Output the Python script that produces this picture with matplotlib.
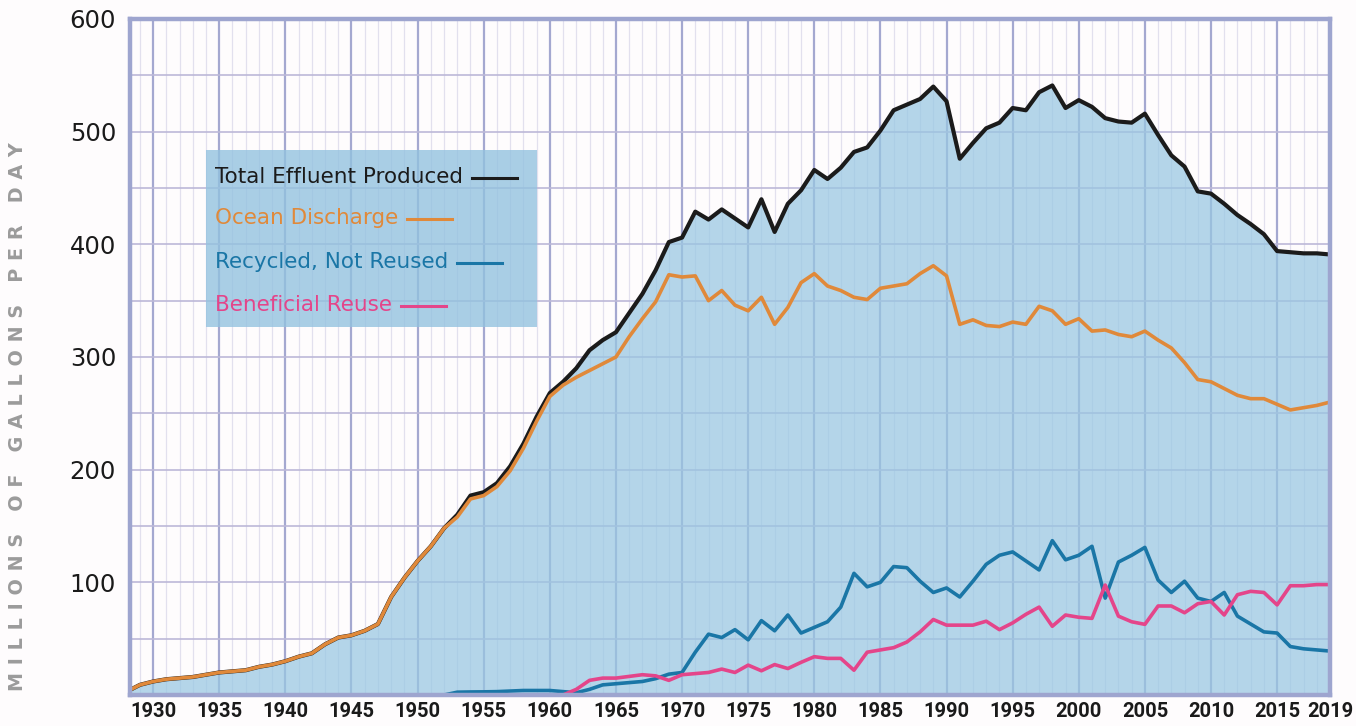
import numpy as np
import matplotlib.pyplot as plt
from matplotlib.lines import Line2D
from matplotlib.patches import Rectangle

years = np.arange(1928, 2020)

# million gallons per day
total = [3, 9, 12, 14, 15, 16, 18, 20, 21, 22, 25, 27, 30, 34, 37, 45, 51, 53, 57, 63,
         87, 104, 119, 132, 148, 160, 177, 180, 188, 203, 223, 247,
         268, 278, 290, 306, 315, 322, 339, 356, 377, 402, 406, 429,
         422, 431, 423, 415, 440, 411, 436, 448, 466, 458, 468, 482, 486, 501,
         519, 524, 529, 540, 527, 476, 490, 503, 508,
         521, 519, 535, 541, 521, 528, 522, 512, 509, 508, 516, 497, 479, 469, 447,
         445, 436, 426, 418, 409, 394, 393, 392, 392, 391]
ocean = [3, 9, 12, 14, 15, 16, 18, 20, 21, 22, 25, 27, 30, 34, 37, 45, 51, 53, 57, 63,
         87, 104, 119, 132, 148, 158, 174, 177, 185, 199, 219, 243,
         265, 275, 282, 288, 294, 300, 318, 334, 349, 373, 371, 372,
         350, 359, 346, 341, 353, 329, 344, 366, 374, 363, 359, 353, 351, 361,
         363, 365, 374, 381, 372, 329, 333, 328, 327,
         331, 329, 345, 341, 329, 334, 323, 324, 320, 318, 323, 315, 308, 295, 280,
         278, 272, 266, 263, 263, 258, 253, 255, 257, 260]
recycled = [np.nan] * 24 + [
         0, 2.5, 2.7, 2.8, 3, 3.5, 4, 4, 4, 3, 2, 5, 9, 10, 11, 12, 14.5, 18.5, 20, 38,
         54, 51, 58, 49, 66, 57, 71, 55, 60, 65, 78, 108, 96, 100,
         114, 113, 101, 91, 95, 87, 101, 116, 124,
         127, 119, 111, 137, 120, 124, 132, 86, 118, 124, 131, 102, 91, 101, 86,
         83, 91, 70, 63, 56, 55, 43, 41, 40, 39]
reuse = [np.nan] * 33 + [
         0, 5, 13, 15, 15, 16.5, 18, 17, 13, 18, 19,
         20, 23, 20, 26.5, 21.5, 27, 23.5, 29, 34, 32.5, 32.5, 22, 38, 40,
         42, 47, 56, 67, 62, 62, 62, 65.5, 58,
         64, 71.6, 78, 61, 71, 69, 68, 97.6, 70, 65, 62.7, 79, 79, 73, 81,
         83, 71, 89, 92, 91, 80, 97, 97, 98, 98]

labels = ['Total Effluent Produced', 'Ocean Discharge', 'Recycled, Not Reused', 'Beneficial Reuse']
colors = ['#1b1b1b', '#e0893a', '#1a76a6', '#e4458a']

W, H = 1356, 726
fig = plt.figure(figsize=(W / 100, H / 100), dpi=100)
fig.patch.set_facecolor('#fefcfd')
ax = fig.add_axes([130 / W, 31 / H, 1200 / W, 676 / H])
ax.set_facecolor('#fefcfd')

# grid
for yr in range(1929, 2019):
    if yr % 5 == 0:
        ax.axvline(yr, color='#a4a8d0', lw=1.6, zorder=1)
    else:
        ax.axvline(yr, color='#e2e0ee', lw=0.9, zorder=1)
for v in range(50, 600, 50):
    ax.axhline(v, color='#bcb8d8', lw=1.2, zorder=1)

ax.fill_between(years, total, 0, color='#98c7e2', alpha=0.72, lw=0, zorder=2)

ax.plot(years, total, color=colors[0], lw=3.0, zorder=4)
ax.plot(years, ocean, color=colors[1], lw=2.6, zorder=5)
ax.plot(years, recycled, color=colors[2], lw=2.6, zorder=5)
ax.plot(years, reuse, color=colors[3], lw=2.6, zorder=6)

ax.set_xlim(1928.25, 2019)
ax.set_ylim(0, 600)
xt = list(range(1930, 2016, 5)) + [2019]
ax.set_xticks(xt)
ax.set_xticklabels([str(t) for t in xt], family=['Liberation Sans Narrow', 'Roboto', 'DejaVu Sans'],
                   weight='bold', fontsize=14.5, color='#1a1a1a')
ax.set_yticks(range(100, 601, 100))
ax.set_yticklabels([str(t) for t in range(100, 601, 100)], fontsize=17.5, color='#1a1a1a')
ax.tick_params(axis='both', length=0)
ax.tick_params(axis='y', pad=10)
ax.tick_params(axis='x', pad=5)
for s in ax.spines.values():
    s.set_color('#9ea5cf')
    s.set_linewidth(3.2)
    s.set_zorder(7)

ylab = '\u2009\u2009'.join('MILLIONS OF GALLONS PER DAY')
fig.text(18 / W, 1 - 417 / H, ylab, rotation=90, ha='center', va='center',
         fontsize=13.8, color='#9b9b9b', weight='bold')

# legend box
fig.patches.append(Rectangle((206 / W, 1 - 327 / H), 331 / W, 177 / H,
                             transform=fig.transFigure, facecolor='#92c2df', alpha=0.78,
                             edgecolor='none', zorder=8))
rows_y = [177, 218, 262, 305]
txts = []
for lab, c, yy in zip(labels, colors, rows_y):
    t = fig.text(215 / W, 1 - yy / H, lab, ha='left', va='center', fontsize=15.5,
                 color=c, zorder=9)
    txts.append(t)
fig.canvas.draw()
r = fig.canvas.get_renderer()
for t, c, yy in zip(txts, colors, rows_y):
    bb = t.get_window_extent(r)
    x0 = bb.x1 + 9
    fig.lines.append(Line2D([x0 / W, (x0 + 45) / W], [1 - (yy + 1) / H] * 2,
                            transform=fig.transFigure, color=c, lw=2.2, zorder=9))

fig.savefig('out.png', dpi=100, facecolor=fig.get_facecolor())
